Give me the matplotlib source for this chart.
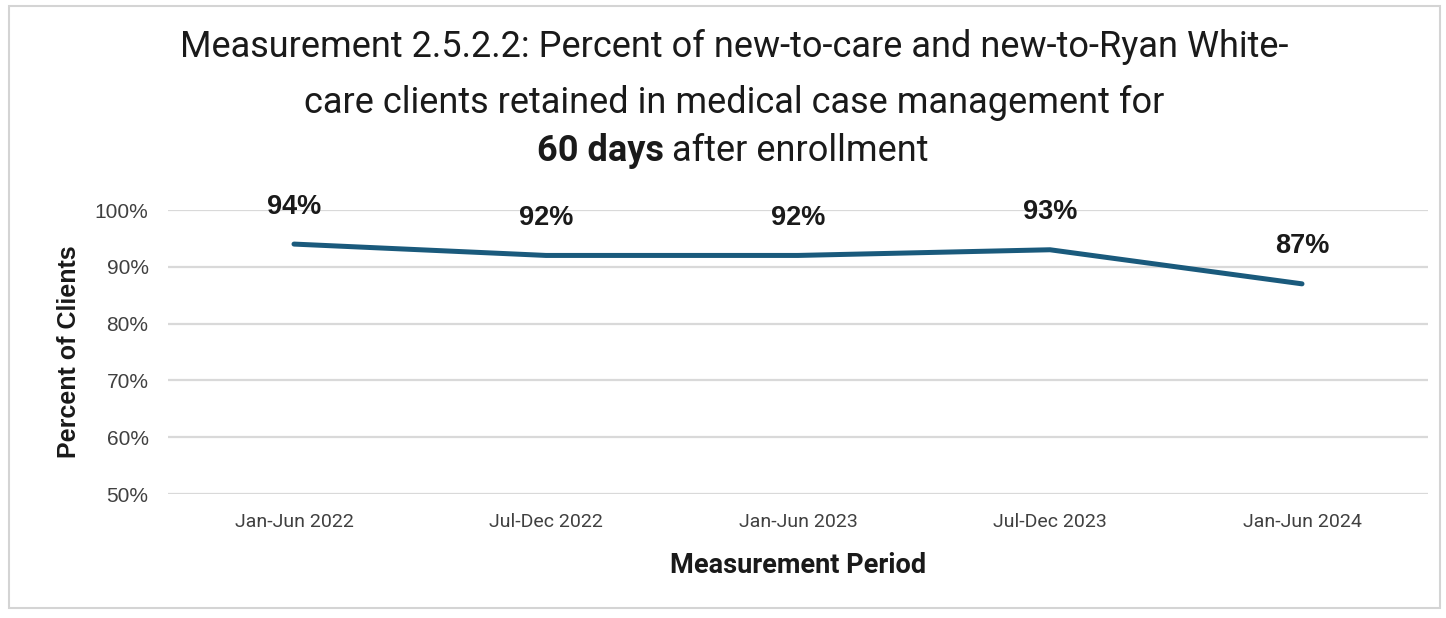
import matplotlib.pyplot as plt
from matplotlib.patches import Rectangle

# retention by reporting period
periods = ["Jan-Jun 2022", "Jul-Dec 2022", "Jan-Jun 2023", "Jul-Dec 2023", "Jan-Jun 2024"]
retained = [94, 92, 92, 93, 87]
yticks = [50, 60, 70, 80, 90, 100]

narrow = ["Roboto", "DejaVu Sans"]
plain = ["Liberation Sans", "DejaVu Sans"]

fig = plt.figure(figsize=(14.46, 6.18), dpi=100)
fig.patches.append(Rectangle((0.006, 0.016), 0.99, 0.974, transform=fig.transFigure,
                             fill=False, edgecolor="#d4d4d4", linewidth=1.5))

ax = fig.add_axes([168 / 1446, 1 - 494 / 618, 1260 / 1446, 284 / 618])
x = list(range(len(periods)))
ax.plot(x, retained, color="#1a5a7c", linewidth=3.6, solid_capstyle="round")

for xi, v in zip(x, retained):
    ax.annotate(f"{v}%", (xi, v), xytext=(0, 27), textcoords="offset points",
                ha="center", va="center", fontsize=19.5, fontweight="bold",
                family=plain, color="#1a1a1a")

ax.set_xlim(-0.5, len(periods) - 0.5)
ax.set_ylim(50, 100)
ax.set_yticks(yticks)
ax.set_yticklabels([f"{t}%" for t in yticks], family=plain, fontsize=15, color="#404040")
ax.set_xticks(x)
ax.set_xticklabels(periods, family=narrow, fontsize=14, color="#404040")
ax.tick_params(axis="x", length=0, pad=14)
ax.tick_params(axis="y", length=0, pad=14)
ax.grid(axis="y", color="#d9d9d9", linewidth=1.6)
ax.set_axisbelow(True)
for s in ax.spines.values():
    s.set_visible(False)

ax.set_ylabel("Percent of Clients", family=plain, fontsize=18, fontweight="bold",
              color="#1a1a1a", labelpad=10)
ax.set_xlabel("Measurement Period", family=narrow, fontsize=19.5, fontweight="bold",
              color="#1a1a1a", labelpad=15)

title_kw = dict(va="center", fontsize=26, family=narrow, color="#1a1a1a")
fig.text(0.5076, 1 - 47 / 618, "Measurement 2.5.2.2: Percent of new-to-care and new-to-Ryan White-",
         ha="center", **title_kw)
fig.text(0.5076, 1 - 103 / 618, "care clients retained in medical case management for",
         ha="center", **title_kw)
fig.text(664 / 1446, 1 - 151 / 618, "60 days", ha="right", fontweight="bold", **title_kw)
fig.text(672 / 1446, 1 - 151 / 618, "after enrollment", ha="left", **title_kw)

fig.savefig("out.png", dpi=100)
